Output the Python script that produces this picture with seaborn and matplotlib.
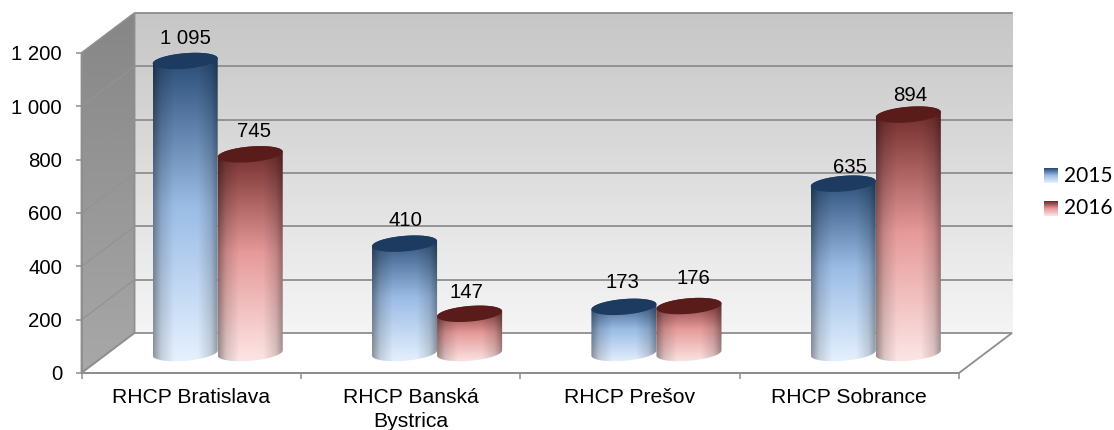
import numpy as np
import pandas as pd
import seaborn as sns
import matplotlib.pyplot as plt
from matplotlib.patches import PathPatch, Polygon
from matplotlib.path import Path
from matplotlib.colors import to_rgb

# --- data ---
categories = ["RHCP Bratislava", "RHCP Banská\nBystrica", "RHCP Prešov", "RHCP Sobrance"]
years = ["2015", "2016"]
values_2015 = [1095, 410, 173, 635]
values_2016 = [745, 147, 176, 894]
value_labels_2015 = ["1 095", "410", "173", "635"]
value_labels_2016 = ["745", "147", "176", "894"]
y_ticks = [0, 200, 400, 600, 800, 1000, 1200]
y_tick_labels = ["0", "200", "400", "600", "800", "1 000", "1 200"]

df = pd.DataFrame({
    "rhcp": categories * 2,
    "rok": [years[0]] * 4 + [years[1]] * 4,
    "pocet": values_2015 + values_2016,
})

# --- layout of the fake 3D box, in pixels of the 1114x430 picture ---
W, H = 1114, 430
PX_X = 1 / 219.25    # one pixel in category units
PX_Y = 3.75          # one pixel in value units
DEPTH_X = 53 * PX_X
DEPTH_Y = 40 * PX_Y
X0, X1 = -0.5, 3.5
FRAME = "#8e8e8e"
FONT_SIZE = 14.7

# gradient stops: top, middle, bottom
RAMPS = {
    "2015": ["#234670", "#9bbce5", "#e6f1fe"],
    "2016": ["#6a2523", "#e69a9a", "#fde6e6"],
}
CAPS = {"2015": "#1d3b60", "2016": "#5a1c1b"}

sns.set_theme(style="white")
plt.rcParams["font.family"] = ["Liberation Sans", "DejaVu Sans"]

fig = plt.figure(figsize=(W / 100, H / 100), dpi=100, facecolor="white")
ax = fig.add_axes([81.5 / W, (H - 373) / H, (1012 - 81.5) / W, 359.7 / H])
ax.patch.set_visible(False)


def ramp_image(stops, n=200):
    pos = [0, 0.5, 1]
    cols = np.array([to_rgb(c) for c in stops])
    t = np.linspace(0, 1, n)
    return np.stack([np.interp(t, pos, cols[:, i]) for i in range(3)], axis=1)


def grey_ramp(top, bottom):
    return ramp_image([top, np.mean([to_rgb(top), to_rgb(bottom)], axis=0), bottom])[:, None, :]


# --- bars from seaborn, turned into cylinders below ---
sns.barplot(data=df, x="rhcp", y="pocet", hue="rok", hue_order=years, width=0.593,
            gap=0, legend=False, ax=ax)
ax.set_autoscale_on(False)

# --- walls and floor ---
back = ax.imshow(grey_ramp("#c6c6c6", "#f5f5f5"), aspect="auto", zorder=0.1,
                 extent=(X0 + DEPTH_X, X1 + DEPTH_X, DEPTH_Y, 1200 + DEPTH_Y))
side = ax.imshow(grey_ramp("#868686", "#a8a8a8"), aspect="auto", zorder=0.1,
                 extent=(X0, X0 + DEPTH_X, 0, 1200 + DEPTH_Y))
side_clip = Polygon([(X0, 0), (X0, 1200), (X0 + DEPTH_X, 1200 + DEPTH_Y), (X0 + DEPTH_X, DEPTH_Y)],
                    closed=True, transform=ax.transData, fill=False, edgecolor=FRAME,
                    linewidth=1.3, zorder=0.5, clip_on=False)
ax.add_patch(side_clip)
side.set_clip_path(side_clip)

ax.add_patch(Polygon([(X0, 0), (X1, 0), (X1 + DEPTH_X, DEPTH_Y), (X0 + DEPTH_X, DEPTH_Y)],
                     closed=True, facecolor="white", edgecolor=FRAME, linewidth=1.3,
                     zorder=0.5, clip_on=False))
ax.plot([X0 + DEPTH_X, X1 + DEPTH_X], [1200 + DEPTH_Y, 1200 + DEPTH_Y],
        color=FRAME, lw=1.3, zorder=0.6, clip_on=False)

# gridlines on the back wall and the side wall
for v in y_ticks[1:-1]:
    ax.plot([X0 + DEPTH_X, X1 + DEPTH_X], [v + DEPTH_Y, v + DEPTH_Y], color=FRAME, lw=1.3,
            zorder=0.6, clip_on=False)
    ax.plot([X0, X0 + DEPTH_X], [v, v + DEPTH_Y], color="#939393", lw=0.9, zorder=0.6,
            clip_on=False)


# --- cylinders ---
def arc(cx, cy, a, b, s, t0, t1, n=60):
    t = np.linspace(t0, t1, n)
    return np.column_stack([cx + a * np.cos(t), cy + b * np.sin(t) + s * np.cos(t)])


def draw_cylinder(rect, year, z):
    xl, w, h = rect.get_x(), rect.get_width(), rect.get_height()
    rect.set_visible(False)
    cx = xl + w / 2 + DEPTH_X / 2
    base = DEPTH_Y / 2
    a, b, s = w / 2, 7.8 * PX_Y, 2.6 * PX_Y

    lower = arc(cx, base, a, b, s, np.pi, 2 * np.pi)
    upper = arc(cx, base + h, a, b, s, 0, np.pi)
    body = Path(np.vstack([lower, upper, lower[:1]]))
    clip = PathPatch(body, transform=ax.transData, facecolor="none", edgecolor="none", zorder=z)
    ax.add_patch(clip)

    u = np.linspace(0, 1, 120)
    shade = np.interp(u, [0, 0.12, 0.32, 0.68, 0.88, 1], [0.62, 0.86, 1, 1, 0.86, 0.62])
    img = ramp_image(RAMPS[year])[:, None, :] * shade[None, :, None]
    top_y = base + h + b + abs(s)
    bot_y = base - b - abs(s)
    im = ax.imshow(img, aspect="auto", zorder=z, interpolation="bilinear",
                   extent=(cx - a, cx + a, bot_y, top_y))
    im.set_clip_path(clip)

    cap = arc(cx, base + h, a, b, s, 0, 2 * np.pi)
    ax.add_patch(Polygon(cap, closed=True, facecolor=CAPS[year], edgecolor="none", zorder=z + 0.01))
    return cx, base + h


tops = {}
for i, (year, container) in enumerate(zip(years, ax.containers)):
    for j, rect in enumerate(container):
        tops[(year, j)] = draw_cylinder(rect, year, 2 + i + j * 0.1)

# --- value labels, small nudges in points ---
nudges = {("2015", 3): (5, -5), ("2016", 0): (3, 0), ("2015", 1): (1, 0), ("2016", 1): (-2, -1),
          ("2015", 2): (-1, 1), ("2016", 2): (3, 3), ("2016", 3): (1, -3)}
for year, labels in zip(years, [value_labels_2015, value_labels_2016]):
    for j, txt in enumerate(labels):
        cx, top = tops[(year, j)]
        dx, dy = nudges.get((year, j), (0, 0))
        ax.annotate(txt, (cx, top), xytext=(dx, 16.5 + dy), textcoords="offset points",
                    ha="center", va="center", fontsize=FONT_SIZE, color="black", zorder=10)

# --- axes ---
ax.set_xlim(X0, X1 + DEPTH_X)
ax.set_ylim(0, 359.7 * PX_Y)
ax.set_xlabel("")
ax.set_ylabel("")
for name in ["top", "right"]:
    ax.spines[name].set_visible(False)
ax.spines["left"].set_bounds(0, 1200)
ax.spines["bottom"].set_bounds(X0, X1)
for name in ["left", "bottom"]:
    ax.spines[name].set_color(FRAME)
    ax.spines[name].set_linewidth(1.3)
    ax.spines[name].set_zorder(1)

ax.set_yticks(y_ticks, y_tick_labels)
ax.tick_params(axis="y", left=True, length=4, width=1.1, color=FRAME, pad=10, labelsize=FONT_SIZE,
               labelcolor="black")
ax.set_xticks([-0.5, 0.5, 1.5, 2.5, 3.5], [""] * 5)
ax.set_xticks([0, 1, 2, 3], categories, minor=True)
ax.tick_params(axis="x", which="major", bottom=True, length=4, width=1.1, color=FRAME)
ax.tick_params(axis="x", which="minor", bottom=False, pad=7, labelsize=15.2, labelcolor="black")
for lab in ax.get_xticklabels(minor=True):
    lab.set_linespacing(1.32)

# --- legend: gradient swatches with real text ---
for year, y_px in zip(years, [168, 201]):
    sw = fig.add_axes([1044 / W, (H - y_px - 15) / H, 14 / W, 15 / H])
    sw.imshow(ramp_image(RAMPS[year])[:, None, :], aspect="auto", interpolation="bilinear")
    sw.axis("off")
    fig.text(1064 / W, (H - y_px - 7.5) / H, year, family=["Lato", "DejaVu Sans"], fontsize=15,
             ha="left", va="center", color="black")

fig.savefig("out.png", dpi=100, facecolor="white")
